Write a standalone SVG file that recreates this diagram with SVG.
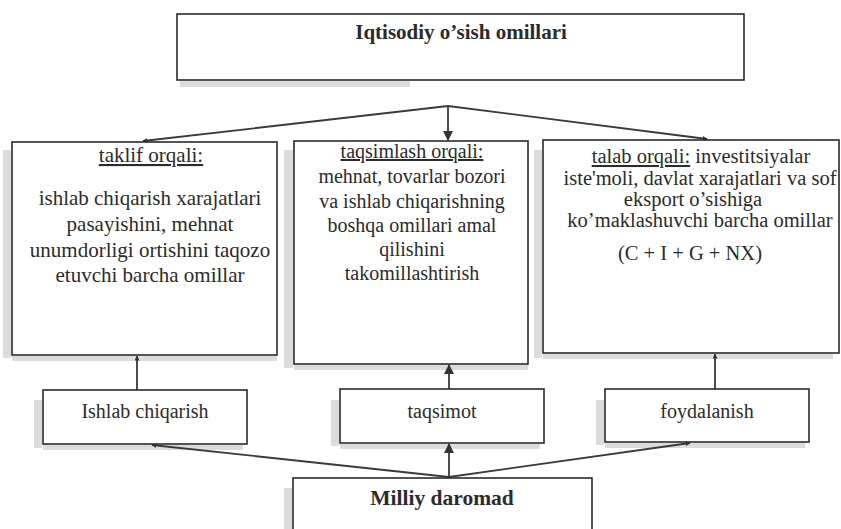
<svg xmlns="http://www.w3.org/2000/svg" width="841" height="529" viewBox="0 0 841 529">
<style>
.box{fill:#fff;stroke:#2a2a2a;stroke-width:1.6}
.sh{fill:#dcdcdc}
.t{font-family:"Liberation Serif","Times New Roman",serif;font-size:20px;fill:#2b2b2b;text-anchor:middle}
.l{font-size:21px}
.r{font-size:20.5px}
.b{font-weight:bold;font-size:21px}
.u{text-decoration:underline}
.c{fill:none;stroke:#3a3a3a;stroke-width:1.8}
</style>
<defs>
<marker id="ah" viewBox="0 0 10 10" refX="9" refY="5" markerWidth="5" markerHeight="5" orient="auto-start-reverse" markerUnits="userSpaceOnUse">
<path d="M0,0 L10,5 L0,10 z" fill="#333"/>
</marker>
<marker id="ahb" viewBox="0 0 10 10" refX="9" refY="5" markerWidth="10" markerHeight="10" orient="auto" markerUnits="userSpaceOnUse">
<path d="M0,0 L10,5 L0,10 z" fill="#333"/>
</marker>
</defs>
<rect width="841" height="529" fill="#fff"/>
<g id="shadows">
<rect class="sh" x="180" y="81" width="230" height="6"/>
<rect class="sh" x="3" y="150" width="8" height="208"/>
<rect class="sh" x="12" y="356" width="265" height="5"/>
<rect class="sh" x="284" y="150" width="9" height="218"/>
<rect class="sh" x="294" y="365" width="234" height="5"/>
<rect class="sh" x="534" y="150" width="8" height="208"/>
<rect class="sh" x="543" y="354" width="290" height="5"/>
<rect class="sh" x="34" y="400" width="8" height="48"/>
<rect class="sh" x="43" y="445" width="200" height="5"/>
<rect class="sh" x="331" y="400" width="8" height="46"/>
<rect class="sh" x="340" y="444" width="200" height="5"/>
<rect class="sh" x="596" y="400" width="8" height="45"/>
<rect class="sh" x="605" y="443" width="200" height="5"/>
<rect class="sh" x="284" y="488" width="8" height="41"/>
</g>
<g id="connectors">
<polyline class="c" points="143,141 448,106 707,139" marker-start="url(#ah)" marker-end="url(#ah)"/>
<line class="c" x1="448" y1="106" x2="448" y2="140" marker-end="url(#ahb)"/>
<line class="c" x1="137" y1="390" x2="137" y2="356" marker-end="url(#ah)"/>
<line class="c" x1="449" y1="389" x2="449" y2="365" marker-end="url(#ahb)"/>
<line class="c" x1="715" y1="389" x2="715" y2="354" marker-end="url(#ah)"/>
<polyline class="c" points="152,445 449,477 690,443" marker-start="url(#ah)" marker-end="url(#ah)"/>
<line class="c" x1="449" y1="477" x2="449" y2="444" marker-end="url(#ahb)"/>
</g>
<g id="top">
<rect class="box" x="177" y="14" width="567" height="66"/>
<text class="t b" x="461" y="39">Iqtisodiy o’sish omillari</text>
</g>
<g id="taklif">
<rect class="box" x="12" y="142" width="265" height="213"/>
<text class="t l" x="151" y="162"><tspan class="u">taklif orqali:</tspan></text>
<text class="t l" x="150" y="205">ishlab chiqarish xarajatlari</text>
<text class="t l" x="150" y="231">pasayishini, mehnat</text>
<text class="t l" x="150" y="257">unumdorligi ortishini taqozo</text>
<text class="t l" x="150" y="282">etuvchi barcha omillar</text>
</g>
<g id="taqsimlash">
<rect class="box" x="294" y="141" width="234" height="223"/>
<text class="t" x="412" y="158"><tspan class="u">taqsimlash orqali:</tspan></text>
<text class="t" x="412" y="183">mehnat, tovarlar bozori</text>
<text class="t" x="412" y="208">va ishlab chiqarishning</text>
<text class="t" x="412" y="232">boshqa omillari amal</text>
<text class="t" x="412" y="256">qilishini</text>
<text class="t" x="412" y="280">takomillashtirish</text>
</g>
<g id="talab">
<rect class="box" x="543" y="140" width="296" height="213"/>
<text class="t r" x="701" y="163"><tspan class="u">talab orqali:</tspan> investitsiyalar</text>
<text class="t r" x="700" y="185">iste'moli, davlat xarajatlari va sof</text>
<text class="t r" x="693" y="206">eksport o’sishiga</text>
<text class="t r" x="700" y="227">ko’maklashuvchi barcha omillar</text>
<text class="t r" x="690" y="260">(C + I + G + NX)</text>
</g>
<g id="ishlab">
<rect class="box" x="43" y="390" width="204" height="54"/>
<text class="t" x="145" y="418">Ishlab chiqarish</text>
</g>
<g id="taqsimot">
<rect class="box" x="340" y="389" width="204" height="54"/>
<text class="t" x="442" y="418">taqsimot</text>
</g>
<g id="foydalanish">
<rect class="box" x="605" y="389" width="204" height="53"/>
<text class="t" x="707" y="418">foydalanish</text>
</g>
<g id="milliy">
<rect class="box" x="293" y="478" width="299" height="70"/>
<text class="t b" x="442" y="505" style="font-size:21.5px">Milliy daromad</text>
</g>
</svg>
